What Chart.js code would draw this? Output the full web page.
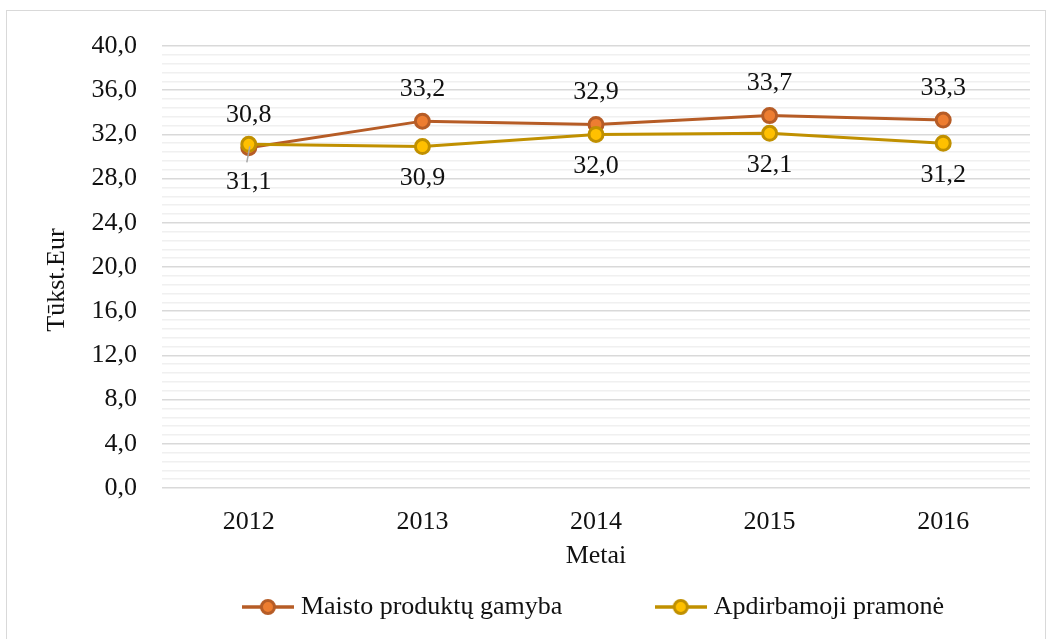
<!DOCTYPE html>
<html>
<head>
<meta charset="utf-8">
<script src="https://cdn.jsdelivr.net/npm/chart.js@4.4.0/dist/chart.umd.min.js"></script>
<style>
html,body{margin:0;padding:0;background:#fff;}
#wrap{position:relative;width:1052px;height:639px;}
</style>
</head>
<body>
<div id="wrap"><canvas id="c" width="1052" height="639"></canvas></div>
<script>
const categories = ['2012', '2013', '2014', '2015', '2016'];
const maistoValues = [30.8, 33.2, 32.9, 33.7, 33.3];
const apdirbamojiValues = [31.1, 30.9, 32.0, 32.1, 31.2];
const seriesNames = ['Maisto produktų gamyba', 'Apdirbamoji pramonė'];
const yTitle = 'Tūkst.Eur';
const xTitle = 'Metai';

const FONT = '"Liberation Serif", "Times New Roman", serif';
const FS = 26;
const C1 = {line: '#b65c26', fill: '#ed7d31'};
const C2 = {line: '#c09000', fill: '#ffc000'};

function legendIcon(c) {
  const cv = document.createElement('canvas');
  cv.width = 52; cv.height = 22;
  const ctx = cv.getContext('2d');
  ctx.strokeStyle = c.line; ctx.lineWidth = 3.5;
  ctx.beginPath(); ctx.moveTo(0, 11); ctx.lineTo(52, 11); ctx.stroke();
  ctx.beginPath(); ctx.arc(26, 11, 6.5, 0, Math.PI * 2);
  ctx.fillStyle = c.fill; ctx.fill();
  ctx.lineWidth = 3; ctx.stroke();
  return cv;
}

const fmt = v => v.toFixed(1).replace('.', ',');

const labelPlugin = {
  id: 'valueLabels',
  afterDatasetsDraw(chart) {
    const ctx = chart.ctx;
    ctx.save();
    ctx.font = FS + 'px ' + FONT;
    ctx.fillStyle = '#111';
    ctx.textAlign = 'center';
    ctx.textBaseline = 'middle';
    chart.data.datasets.forEach((ds, di) => {
      const meta = chart.getDatasetMeta(di);
      meta.data.forEach((pt, i) => {
        const above = ds.labelPos === 'above';
        let dy = above ? -32 : 32;
        if (!above && i === 0) {
          dy = 38;
          ctx.save();
          ctx.strokeStyle = '#a6a6a6';
          ctx.lineWidth = 1.5;
          ctx.beginPath();
          ctx.moveTo(pt.x + 1, pt.y + 2);
          ctx.lineTo(pt.x - 2, pt.y + 18);
          ctx.stroke();
          ctx.restore();
        }
        ctx.fillText(fmt(ds.data[i]), pt.x, pt.y + dy);
      });
    });
    ctx.restore();
  }
};

const framePlugin = {
  id: 'frame',
  beforeDraw(chart) {
    const ctx = chart.ctx;
    ctx.save();
    ctx.strokeStyle = '#d9d9d9';
    ctx.lineWidth = 1;
    ctx.strokeRect(6.5, 10.5, 1039, 660);
    ctx.restore();
  }
};

const isMajor = v => Math.abs(v / 4 - Math.round(v / 4)) < 1e-6;

new Chart(document.getElementById('c'), {
  type: 'line',
  data: {
    labels: categories,
    datasets: [
      {
        label: seriesNames[0],
        data: maistoValues,
        borderColor: C1.line,
        backgroundColor: C1.fill,
        pointBackgroundColor: C1.fill,
        pointBorderColor: C1.line,
        borderWidth: 3,
        pointRadius: 7,
        pointBorderWidth: 3,
        pointStyle: 'circle',
        legendIcon: legendIcon(C1),
        legendText: seriesNames[0] + '\u2003\u2003\u2003\u2009\u2009',
        labelPos: 'above',
        order: 1,
        tension: 0
      },
      {
        label: seriesNames[1],
        data: apdirbamojiValues,
        borderColor: C2.line,
        backgroundColor: C2.fill,
        pointBackgroundColor: C2.fill,
        pointBorderColor: C2.line,
        borderWidth: 3,
        pointRadius: 7,
        pointBorderWidth: 3,
        pointStyle: 'circle',
        legendIcon: legendIcon(C2),
        legendText: seriesNames[1],
        labelPos: 'below',
        order: 0,
        tension: 0
      }
    ]
  },
  options: {
    responsive: false,
    animation: false,
    layout: {padding: {top: 46, right: 22, left: 0, bottom: 9}},
    plugins: {
      tooltip: {enabled: false},
      legend: {
        position: 'bottom',
        fullSize: false,
        labels: {
          usePointStyle: true,
          pointStyleWidth: 40,
          font: {family: FONT, size: FS},
          color: '#111',
          padding: 10,
          generateLabels(chart) {
            return chart.data.datasets.map((ds, i) => ({
              text: ds.legendText,
              pointStyle: ds.legendIcon,
              datasetIndex: i,
              fillStyle: ds.backgroundColor,
              strokeStyle: ds.borderColor,
              lineWidth: 0,
              fontColor: '#111'
            }));
          }
        }
      }
    },
    scales: {
      x: {
        offset: true,
        afterFit(scale) { scale.height = 96; },
        grid: {display: false},
        border: {display: false},
        ticks: {font: {family: FONT, size: FS}, color: '#111', padding: 11},
        title: {display: true, text: xTitle, font: {family: FONT, size: FS}, color: '#111', padding: {top: 0, bottom: 12}}
      },
      y: {
        min: 0,
        max: 40,
        afterFit(scale) { scale.width = 162; },
        border: {display: false},
        grid: {
          drawTicks: false,
          color: ctx => isMajor(ctx.tick.value) ? '#d9d9d9' : '#f0f0f0',
          lineWidth: 1.5
        },
        ticks: {
          stepSize: 0.8,
          maxTicksLimit: 100,
          autoSkip: false,
          padding: 25,
          font: {family: FONT, size: FS},
          color: '#111',
          callback: v => isMajor(v) ? fmt(v) : ''
        },
        title: {display: true, text: yTitle + '\u2003', font: {family: FONT, size: FS}, color: '#111', padding: {top: 42, bottom: 0}}
      }
    }
  },
  plugins: [labelPlugin, framePlugin]
});
</script>
</body>
</html>
